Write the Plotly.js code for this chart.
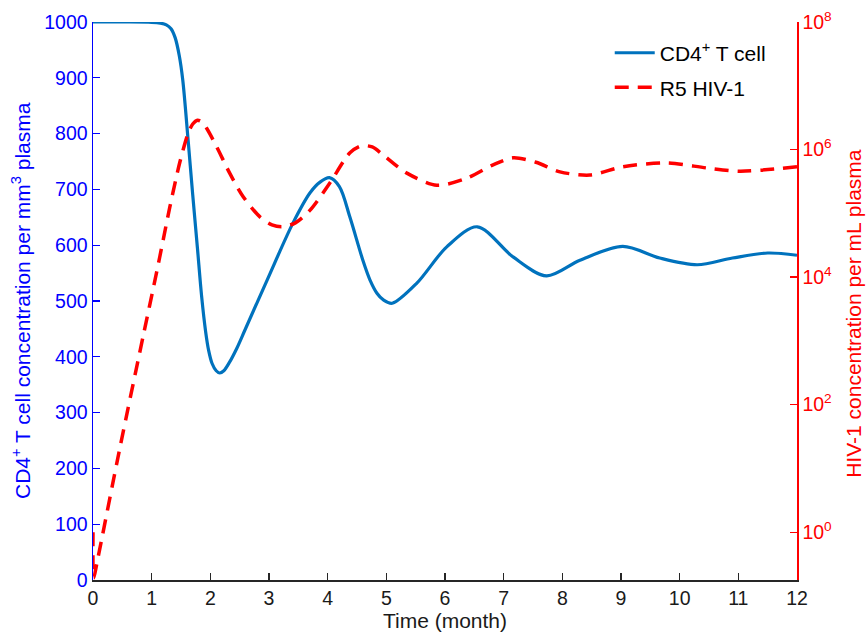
<!DOCTYPE html>
<html>
<head>
<meta charset="utf-8">
<script src="https://cdn.plot.ly/plotly-3.0.1.min.js"></script>
<style>html,body{margin:0;padding:0;background:#fff;}#chart{width:866px;height:636px;}</style>
</head>
<body>
<div id="chart"></div>
<script>
// CD4+ T cell concentration (per mm^3)
const cd4Time = [0, 0.5, 1.0, 1.15, 1.25, 1.33, 1.40, 1.47, 1.53, 1.62, 1.70, 1.78, 1.85, 1.92, 1.97, 2.03, 2.10, 2.16, 2.23, 2.32, 2.45, 2.59, 2.97, 3.41, 3.70, 3.87, 4.03, 4.20, 4.38, 4.60, 4.72, 4.84, 4.95, 5.10, 5.52, 6.03, 6.55, 7.16, 7.73, 8.30, 9.03, 9.66, 10.30, 10.90, 11.50, 12.0];
const cd4Values = [1000, 1000, 999.5, 998, 995, 988, 972, 940, 896, 790, 690, 595, 510, 445, 412, 388, 375, 371, 375, 389, 415, 448, 538, 640, 694, 713, 721, 705, 650, 573, 538, 514, 502, 496, 532, 597, 633, 579, 545, 573, 598, 577, 565, 577, 586, 582];

// R5 HIV-1 concentration (per mL), read as log10 exponents
const hivTime = [0, 0.012, 0.07, 0.46, 0.87, 1.09, 1.20, 1.31, 1.48, 1.62, 1.70, 1.78, 1.86, 1.94, 2.11, 2.33, 2.56, 2.85, 3.05, 3.22, 3.45, 3.70, 4.04, 4.38, 4.58, 4.76, 4.94, 5.35, 5.86, 6.37, 6.82, 7.16, 7.55, 7.96, 8.47, 9.03, 9.78, 10.47, 11.03, 12.0];
const hivLog10 = [0, -0.72, -0.47, 1.33, 3.14, 4.10, 4.60, 5.10, 5.80, 6.25, 6.40, 6.46, 6.43, 6.33, 6.04, 5.63, 5.26, 4.94, 4.82, 4.79, 4.85, 5.05, 5.48, 5.95, 6.06, 6.04, 5.92, 5.63, 5.44, 5.55, 5.76, 5.87, 5.80, 5.65, 5.60, 5.73, 5.79, 5.71, 5.66, 5.73];

const xTicks = [0,1,2,3,4,5,6,7,8,9,10,11,12];
const leftTicks = [0,100,200,300,400,500,600,700,800,900,1000];
const rightTickExp = [0, 2, 4, 6, 8];

const hivValues = hivLog10.map(v => Math.pow(10, v));
const rightTickVals = rightTickExp.map(e => Math.pow(10, e));
const rightTickText = rightTickExp.map(e => '10<sup>' + e + '</sup>');

const font = 'Liberation Sans, Arial, sans-serif';

const traces = [
  {
    x: cd4Time, y: cd4Values, type: 'scatter', mode: 'lines',
    name: 'CD4<sup>+</sup> T cell',
    line: {color: '#0072BD', width: 3.2, shape: 'spline', smoothing: 0.9},
    yaxis: 'y', legend: 'legend'
  },
  {
    x: hivTime, y: hivValues, type: 'scatter', mode: 'lines',
    name: 'R5 HIV-1',
    line: {color: '#FF0000', width: 3.5, dash: '14px,9px', shape: 'spline', smoothing: 0.8},
    yaxis: 'y2', legend: 'legend2'
  }
];

const layout = {
  width: 866, height: 636,
  margin: {l: 93, r: 69, t: 22, b: 56},
  paper_bgcolor: '#fff', plot_bgcolor: '#fff',
  font: {family: font, size: 19.5, color: '#000'},
  xaxis: {
    range: [0, 12], tickvals: xTicks, ticktext: xTicks.map(String),
    showgrid: false, zeroline: false, showline: true, linecolor: '#262626', linewidth: 1.5,
    ticks: 'inside', ticklen: 7, tickcolor: '#262626', tickwidth: 1.2,
    tickfont: {family: font, size: 19.5, color: '#1a1a1a'},
    title: {text: 'Time (month)', font: {family: font, size: 21, color: '#1a1a1a'}, standoff: 3}
  },
  yaxis: {
    range: [0, 1000], tickvals: leftTicks, ticktext: leftTicks.map(String),
    showgrid: false, zeroline: false, showline: true, linecolor: '#0000FF', linewidth: 1.5,
    ticks: 'inside', ticklen: 7, tickcolor: '#0000FF', tickwidth: 1.2,
    tickfont: {family: font, size: 19.5, color: '#0000FF'}
  },
  yaxis2: {
    type: 'log', range: [-0.75, 8], overlaying: 'y', side: 'right',
    tickvals: rightTickVals, ticktext: rightTickText,
    showgrid: false, zeroline: false, showline: true, linecolor: '#FF0000', linewidth: 1.5,
    ticks: 'inside', ticklen: 7, tickcolor: '#FF0000', tickwidth: 1.2,
    tickfont: {family: font, size: 19.5, color: '#FF0000'}
  },
  annotations: [
    {
      text: 'CD4<sup>+</sup> T cell concentration per mm<sup>3</sup> plasma',
      xref: 'paper', yref: 'paper', x: 0, y: 0.5, xshift: -72,
      xanchor: 'center', yanchor: 'middle', textangle: -90, showarrow: false,
      font: {family: font, size: 21, color: '#0000FF'}
    },
    {
      text: 'HIV-1 concentration per mL plasma',
      xref: 'paper', yref: 'paper', x: 1, y: 0.477, xshift: 57,
      xanchor: 'center', yanchor: 'middle', textangle: -90, showarrow: false,
      font: {family: font, size: 21, color: '#FF0000'}
    }
  ],
  legend: {
    x: 0.734, y: 0.981, xanchor: 'left', yanchor: 'top', itemwidth: 40,
    bgcolor: 'rgba(255,255,255,0)', borderwidth: 0,
    font: {family: font, size: 21, color: '#000'}
  },
  legend2: {
    x: 0.734, y: 0.919, xanchor: 'left', yanchor: 'top', itemwidth: 40,
    bgcolor: 'rgba(255,255,255,0)', borderwidth: 0,
    font: {family: font, size: 21, color: '#000'}
  },
  showlegend: true
};

Plotly.newPlot('chart', traces, layout, {displayModeBar: false, staticPlot: true});
</script>
</body>
</html>
